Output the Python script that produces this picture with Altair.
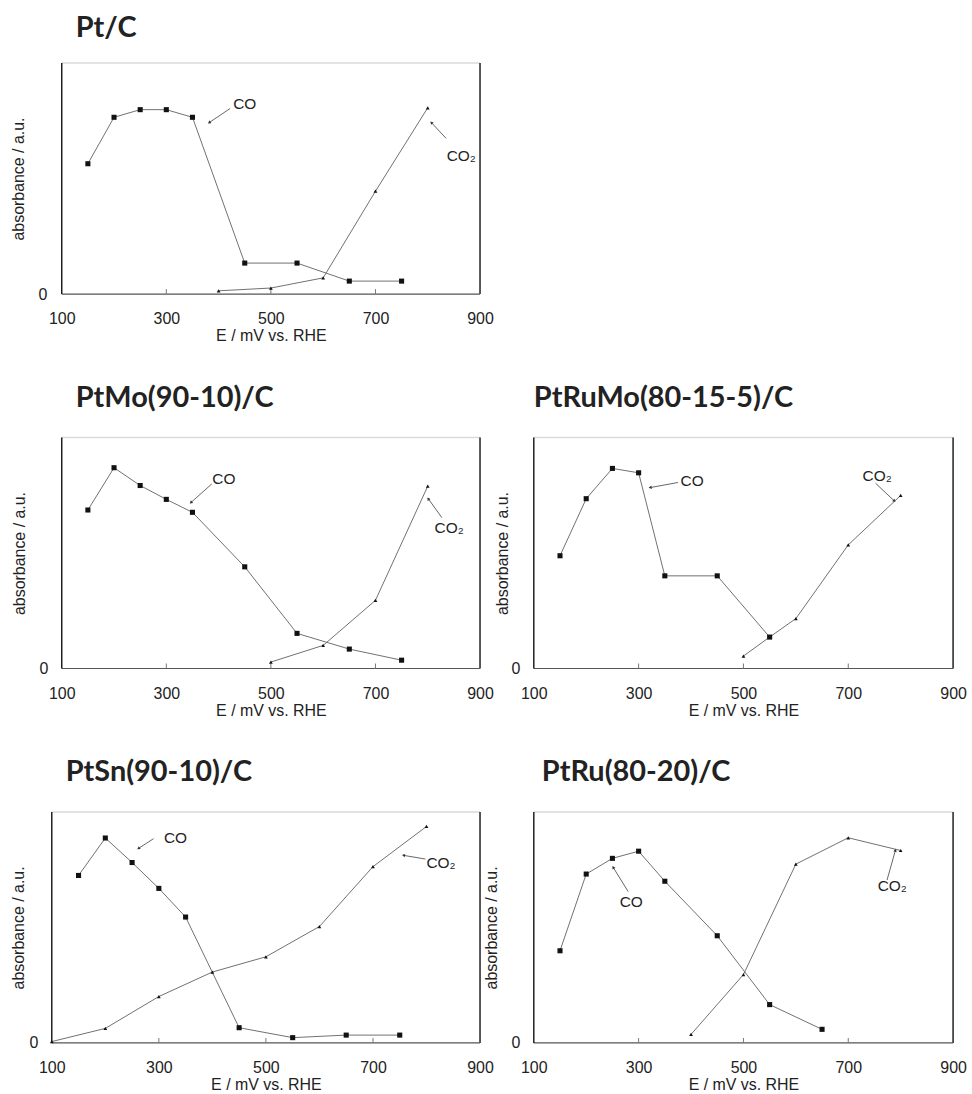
import altair as alt
import pandas as pd
import numpy as np

# ---------------- data (E in mV vs RHE, absorbance in a.u., 0..1) ----------------
ptc_co_e = [150, 200, 250, 300, 350, 450, 550, 650, 750]
ptc_co_a = [0.564, 0.765, 0.798, 0.798, 0.765, 0.134, 0.134, 0.056, 0.056]
ptc_co2_e = [400, 500, 600, 700, 800]
ptc_co2_a = [0.014, 0.026, 0.070, 0.445, 0.806]

ptmo_co_e = [150, 200, 250, 300, 350, 450, 550, 650, 750]
ptmo_co_a = [0.686, 0.869, 0.792, 0.732, 0.676, 0.440, 0.152, 0.084, 0.036]
ptmo_co2_e = [500, 600, 700, 800]
ptmo_co2_a = [0.028, 0.100, 0.295, 0.789]

ptrumo_co_e = [150, 200, 250, 300, 350, 450, 550]
ptrumo_co_a = [0.488, 0.735, 0.866, 0.847, 0.401, 0.401, 0.136]
ptrumo_co2_e = [500, 550, 600, 700, 800]
ptrumo_co2_a = [0.054, 0.136, 0.216, 0.535, 0.749]

ptsn_co_e = [150, 200, 250, 300, 350, 450, 550, 650, 750]
ptsn_co_a = [0.725, 0.887, 0.781, 0.669, 0.545, 0.066, 0.023, 0.034, 0.034]
ptsn_co2_e = [100, 200, 300, 400, 500, 600, 700, 800]
ptsn_co2_a = [0.006, 0.063, 0.201, 0.307, 0.373, 0.504, 0.763, 0.937]

ptru_co_e = [150, 200, 250, 300, 350, 450, 550, 650]
ptru_co_a = [0.399, 0.731, 0.799, 0.830, 0.700, 0.464, 0.166, 0.059]
ptru_co2_e = [400, 500, 600, 700, 800]
ptru_co2_a = [0.037, 0.296, 0.774, 0.888, 0.833]

# annotation labels and arrows (label position, arrow start -> arrow end)
ann_text = ["CO", "CO₂"]
ptc_lab_e, ptc_lab_a = [450, 864], [0.821, 0.596]
ptc_arr_e1, ptc_arr_a1 = [422, 835], [0.803, 0.674]
ptc_arr_e2, ptc_arr_a2 = [382, 807], [0.742, 0.742]

ptmo_lab_e, ptmo_lab_a = [410, 841], [0.821, 0.606]
ptmo_arr_e1, ptmo_arr_a1 = [387, 827], [0.799, 0.653]
ptmo_arr_e2, ptmo_arr_a2 = [347, 801], [0.718, 0.735]

ptrumo_lab_e, ptrumo_lab_a = [402, 755], [0.810, 0.831]
ptrumo_arr_e1, ptrumo_arr_a1 = [375, 752], [0.805, 0.802]
ptrumo_arr_e2, ptrumo_arr_a2 = [322, 788], [0.783, 0.725]

ptsn_lab_e, ptsn_lab_a = [331, 827], [0.885, 0.778]
ptsn_arr_e1, ptsn_arr_a1 = [290, 798], [0.884, 0.796]
ptsn_arr_e2, ptsn_arr_a2 = [262, 757], [0.842, 0.812]

ptru_lab_e, ptru_lab_a = [286, 784], [0.609, 0.680]
ptru_arr_e1, ptru_arr_a1 = [280, 774], [0.655, 0.705]
ptru_arr_e2, ptru_arr_a2 = [251.5, 790], [0.760, 0.834]

x_tick_values = [100, 300, 500, 700, 900]
inner_ticks = [300, 500, 700]

AXIS_FONT = "Liberation Sans"
TITLE_FONT = "Lato"
H = 232


def panel(title, co_e, co_a, co2_e, co2_a, lab_e, lab_a, e1, a1, e2, a2,
          w, x0, title_dx, title_off, y_title_pad, y_label_pad):
    # x0: left inset of the plotted frame inside the panel's own area
    xs = alt.Scale(domain=[100, 900], nice=False, zero=False, range=[x0, w])
    ys = alt.Scale(domain=[0, 1], nice=False, zero=False)
    xax = alt.Axis(values=x_tick_values, title="E / mV vs. RHE", grid=False, ticks=False,
                   domain=False, labelPadding=17, titlePadding=1,
                   labelFlush=False, labelFont=AXIS_FONT, titleFont=AXIS_FONT,
                   labelFontSize=16, titleFontSize=16, titleFontWeight="normal",
                   labelColor="#222222", titleColor="#222222")
    yax = alt.Axis(values=[0], title="absorbance / a.u.", grid=False, ticks=False,
                   domain=False, labelPadding=y_label_pad - x0,
                   titlePadding=y_title_pad, labelFlush=False,
                   labelFont=AXIS_FONT, titleFont=AXIS_FONT,
                   labelFontSize=16, titleFontSize=16, titleFontWeight="normal",
                   labelColor="#222222", titleColor="#222222")
    X = alt.X("E:Q", scale=xs, axis=xax)
    Y = alt.Y("A:Q", scale=ys, axis=yax)

    co = pd.DataFrame({"E": co_e, "A": co_a})
    co2 = pd.DataFrame({"E": co2_e, "A": co2_a})
    lab = pd.DataFrame({"E": lab_e, "A": lab_a, "t": ann_text})
    arr = pd.DataFrame({"E": e1, "A": a1, "E2": e2, "A2": a2})
    # arrowhead rotation from the arrow direction in pixel space
    dxp = (np.array(e2) - np.array(e1)) * (w - x0) / 800.0
    dyp = -(np.array(a2) - np.array(a1)) * H
    arr["ang"] = np.mod(np.degrees(np.arctan2(dxp, -dyp)), 360)
    head = arr[["E2", "A2", "ang"]].rename(columns={"E2": "E", "A2": "A"})
    one = pd.DataFrame({"d": [0]})
    tk = pd.DataFrame({"E": inner_ticks})

    # frame: light top, dark right/left, grey bottom
    top_rule = alt.Chart(one).mark_rule(color="#dadada", strokeWidth=1.5).encode(
        x=alt.value(x0), x2=alt.value(w), y=alt.value(0))
    right_rule = alt.Chart(one).mark_rule(color="#111111", strokeWidth=1.4).encode(
        x=alt.value(w), y=alt.value(0), y2=alt.value(H))
    left_rule = alt.Chart(one).mark_rule(color="#111111", strokeWidth=1.4).encode(
        x=alt.value(x0), y=alt.value(0), y2=alt.value(H))
    bottom_rule = alt.Chart(one).mark_rule(color="#555555", strokeWidth=1.2).encode(
        x=alt.value(x0), x2=alt.value(w), y=alt.value(H))
    ticks = alt.Chart(tk).mark_rule(color="#777777", strokeWidth=1).encode(
        x=X, y=alt.value(H), y2=alt.value(H - 5))

    line_co = alt.Chart(co).mark_line(color="#707070", strokeWidth=1).encode(x=X, y=Y)
    pts_co = alt.Chart(co).mark_point(shape="square", filled=True, size=26, color="#111111",
                                      opacity=1).encode(x=X, y=Y)
    line_co2 = alt.Chart(co2).mark_line(color="#707070", strokeWidth=1).encode(x=X, y=Y)
    pts_co2 = alt.Chart(co2).mark_point(shape="triangle-up", filled=True, size=14,
                                        color="#111111", opacity=1).encode(x=X, y=Y)
    arrows = alt.Chart(arr).mark_rule(color="#555555", strokeWidth=0.9).encode(
        x=X, y=Y, x2="E2:Q", y2="A2:Q")
    heads = alt.Chart(head).mark_point(shape="triangle-up", filled=True, size=12,
                                       color="#333333", opacity=1).encode(
        x=X, y=Y, angle=alt.Angle("ang:Q", scale=None))
    texts = alt.Chart(lab).mark_text(font=AXIS_FONT, fontSize=15.5, color="#222222",
                                     baseline="middle", align="center").encode(
        x=X, y=Y, text="t:N")

    return alt.layer(top_rule, right_rule, bottom_rule, left_rule, ticks, line_co, line_co2,
                     arrows, heads, pts_co2, pts_co, texts).properties(
        width=w, height=H,
        title=alt.TitleParams(title, anchor="start", frame="group", dx=title_dx + x0,
                              offset=title_off, baseline="alphabetic", font=TITLE_FONT,
                              fontSize=29, fontWeight="bold", color="#222222"))


p1 = panel("Pt/C", ptc_co_e, ptc_co_a, ptc_co2_e, ptc_co2_a, ptc_lab_e, ptc_lab_a,
           ptc_arr_e1, ptc_arr_a1, ptc_arr_e2, ptc_arr_a2, 430, 10, 14, -4, 12, 15)
p2 = panel("PtMo(90-10)/C", ptmo_co_e, ptmo_co_a, ptmo_co2_e, ptmo_co2_a, ptmo_lab_e, ptmo_lab_a,
           ptmo_arr_e1, ptmo_arr_a1, ptmo_arr_e2, ptmo_arr_a2, 430, 10, 14, 1, 12, 14)
p3 = panel("PtRuMo(80-15-5)/C", ptrumo_co_e, ptrumo_co_a, ptrumo_co2_e, ptrumo_co2_a,
           ptrumo_lab_e, ptrumo_lab_a, ptrumo_arr_e1, ptrumo_arr_a1, ptrumo_arr_e2,
           ptrumo_arr_a2, 421, 0, 0, 1, 1, 14)
p4 = panel("PtSn(90-10)/C", ptsn_co_e, ptsn_co_a, ptsn_co2_e, ptsn_co2_a, ptsn_lab_e, ptsn_lab_a,
           ptsn_arr_e1, ptsn_arr_a1, ptsn_arr_e2, ptsn_arr_a2, 430, 0, 14, 1, 3, 14)
p5 = panel("PtRu(80-20)/C", ptru_co_e, ptru_co_a, ptru_co2_e, ptru_co2_a, ptru_lab_e, ptru_lab_a,
           ptru_arr_e1, ptru_arr_a1, ptru_arr_e2, ptru_arr_a2, 421, 0, 8, 1, 12, 14)

row2 = alt.hconcat(p2, p3, spacing=54, bounds="flush")
row3 = alt.hconcat(p4, p5, spacing=54, bounds="flush")
lower = alt.vconcat(row2, row3, spacing=40)

chart = alt.vconcat(p1, lower, spacing=40).properties(
    padding={"left": 10, "top": 12, "right": 5, "bottom": 0},
    background="white",
).configure_view(strokeWidth=0, stroke="transparent")

chart.save("out.html", embed_options={"renderer": "svg", "actions": False})
